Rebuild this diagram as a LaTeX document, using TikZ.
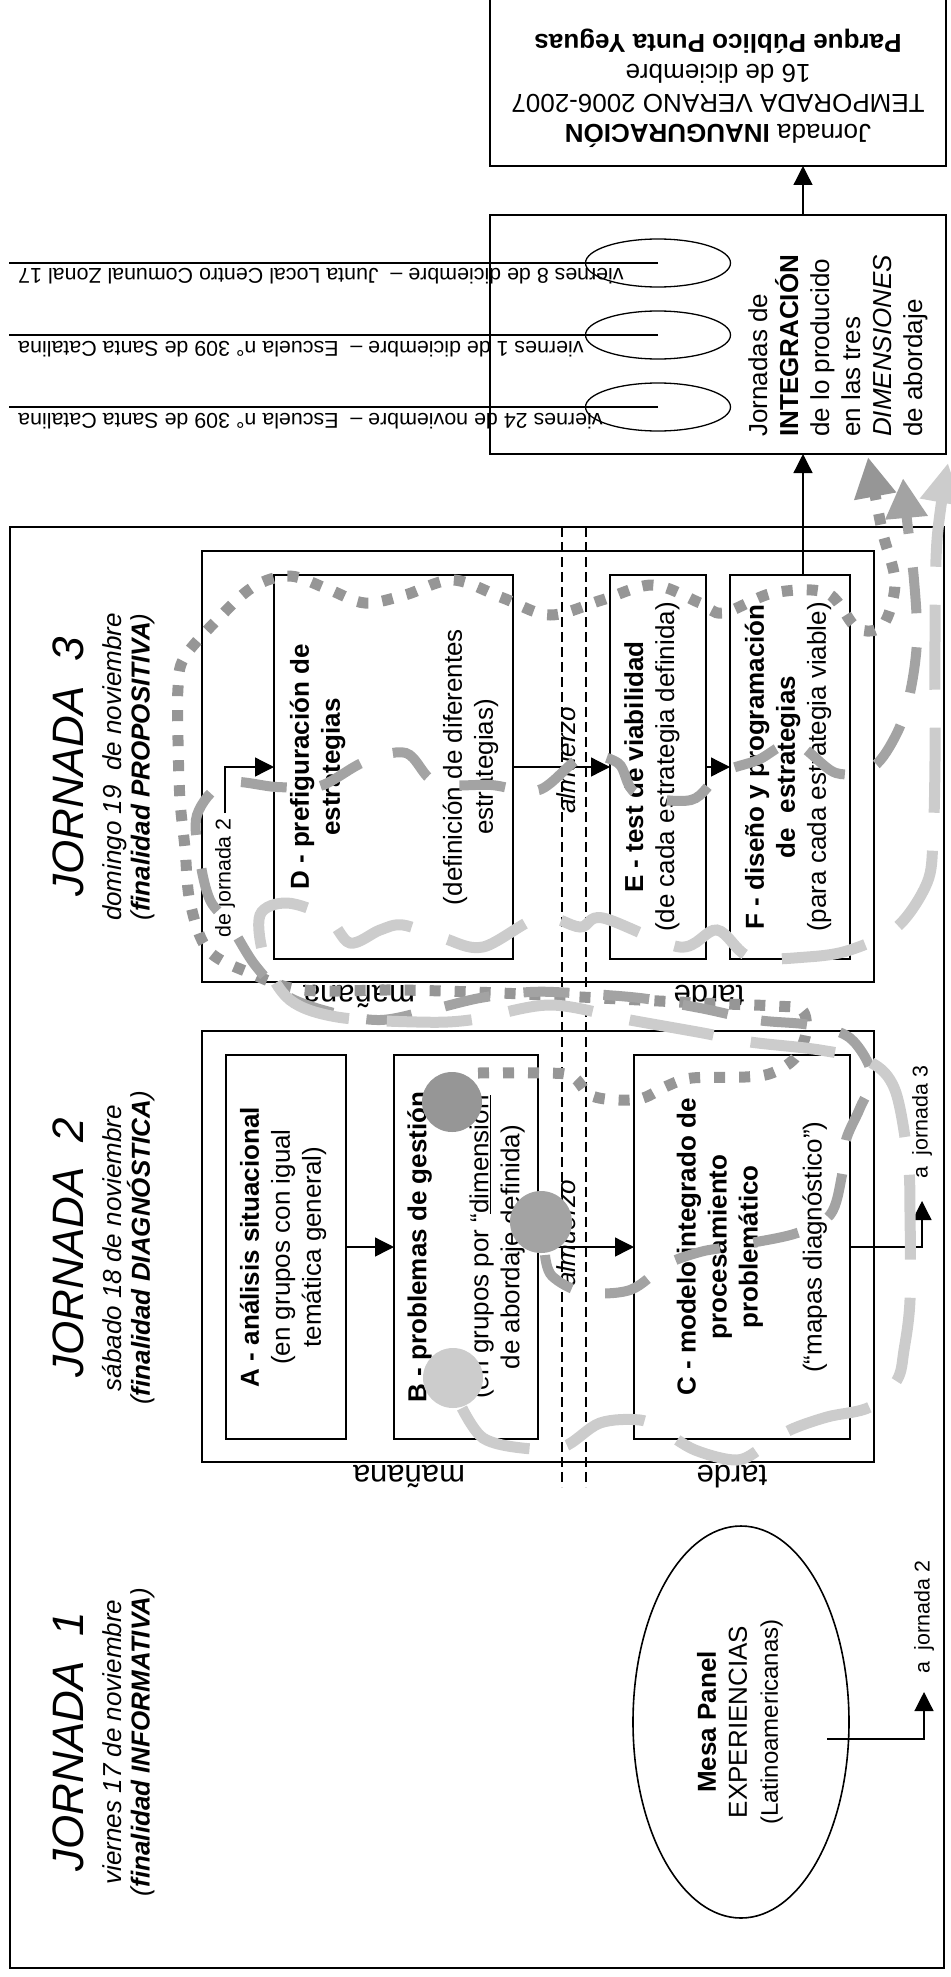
\documentclass[tikz,border=0pt]{standalone}
\usepackage{fontspec}
\setmainfont{Liberation Sans}
\usepackage{xcolor}
\usepackage{tikz}
\usetikzlibrary{arrows.meta,shapes.geometric}

\definecolor{grisA}{RGB}{150,150,150}
\definecolor{grisB}{RGB}{163,163,163}
\definecolor{grisC}{RGB}{204,204,204}

\tikzset{
  caja/.style={draw, line width=1.6pt, inner sep=0pt, outer sep=0pt},
  marco/.style={draw, line width=1.4pt, inner sep=0pt, outer sep=0pt},
  lugar/.style={draw, ellipse, line width=1.3pt, inner sep=0pt, minimum width=145pt, minimum height=48pt},
  flecha/.style={line width=1.3pt, -{Triangle[length=19pt,width=19pt]}},
  texto/.style={inner sep=0pt, align=center, font=\fontsize{26}{31}\selectfont},
  vert/.style={texto, rotate=90},
  chico/.style={inner sep=0pt, font=\fontsize{21.4}{25}\selectfont},
  turno/.style={inner sep=0pt, rotate=180, anchor=base, font=\fontsize{31}{36}\selectfont},
  corte/.style={line width=1.2pt, dash pattern=on 10pt off 5pt},
  bola/.style={circle, inner sep=0pt, minimum size=60pt},
  punteado/.style={grisA, line width=11pt, dash pattern=on 11pt off 14pt},
  rayado/.style={grisB, line width=10pt, dash pattern=on 46pt off 34pt},
  claro/.style={grisC, line width=11pt, dash pattern=on 85pt off 38pt},
  punta/.style={-{Triangle[length=40pt,width=40pt]}},
}

\begin{document}
\begin{tikzpicture}[x=1pt,y=1pt,yscale=-1,xscale=1]
\useasboundingbox (0,0) rectangle (950,1977);



\node[marco, minimum width=934pt, minimum height=1441pt] (fondo) at (477,1247.5) {};
\node[marco, minimum width=672pt, minimum height=431pt] (dia3) at (538,766.5) {};
\node[marco, minimum width=672pt, minimum height=431pt] (dia2) at (538,1246.5) {};

\draw[corte] (562,527) -- (562,1487);
\draw[corte] (586,527) -- (586,1487);



\node[caja, minimum width=456pt, minimum height=168pt] (inaug) at (718,82) {};
\node[caja, minimum width=456pt, minimum height=239pt] (integ) at (718,334.5) {};
\node[caja, minimum width=239pt, minimum height=384pt] (D) at (393.5,767) {};
\node[caja, minimum width=96pt, minimum height=384pt] (E) at (658,767) {};
\node[caja, minimum width=120pt, minimum height=384pt] (F) at (790,767) {};
\node[caja, minimum width=120pt, minimum height=384pt] (A) at (286,1247) {};
\node[caja, minimum width=144pt, minimum height=384pt] (B) at (466,1247) {};
\node[caja, minimum width=216pt, minimum height=384pt] (C) at (742,1247) {};
\node[caja, ellipse, minimum width=216pt, minimum height=392pt] (mesa) at (741,1722) {};

\node[lugar] (dic8) at (658,263) {};
\node[lugar] (dic1) at (658,335) {};
\node[lugar] (nov24) at (658,407) {};
\coordinate (fin8) at (9,263);
\coordinate (fin1) at (9,335);
\coordinate (fin24) at (9,407);
\draw[line width=1.3pt] (dic8.center) -- (fin8);
\draw[line width=1.3pt] (dic1.center) -- (fin1);
\draw[line width=1.3pt] (nov24.center) -- (fin24);



\node[texto, rotate=180, font=\fontsize{26}{30}\selectfont] (inaugtxt) at (718,88) {Jornada \textbf{INAUGURACIÓN}\\TEMPORADA VERANO 2006-2007\\16 de diciembre\\\textbf{Parque Público Punta Yeguas}};
\node[vert, align=left, anchor=west] (integtxt) at (838,437) {Jornadas de\\\textbf{INTEGRACIÓN}\\de lo producido\\en las tres\\\textit{DIMENSIONES}\\de abordaje};

\node[chico, rotate=180, anchor=base east] (lug8) at (18,269) {viernes 8 de diciembre –\ \ Junta Local Centro Comunal Zonal 17};
\node[chico, rotate=180, anchor=base east] (lug1) at (18,341) {viernes 1 de diciembre –\ \ Escuela n° 309 de Santa Catalina};
\node[chico, rotate=180, anchor=base east] (lug24) at (18,413) {viernes 24 de noviembre –\ \ Escuela n° 309 de Santa Catalina};

\node[vert, font=\fontsize{44}{50}\selectfont\itshape] (tit3) at (68,767) {JORNADA\ \ 3};
\node[vert, font=\fontsize{26}{28}\selectfont] (sub3) at (129,767) {\textit{domingo 19\ \ de noviembre}\\\textit{(\textbf{finalidad PROPOSITIVA})}};
\node[vert, font=\fontsize{44}{50}\selectfont\itshape] (tit2) at (68,1248) {JORNADA\ \ 2};
\node[vert, font=\fontsize{26}{28}\selectfont] (sub2) at (129,1248) {\textit{sábado 18 de noviembre}\\\textit{(\textbf{finalidad DIAGNÓSTICA})}};
\node[vert, font=\fontsize{44}{50}\selectfont\itshape] (tit1) at (68,1742) {JORNADA\ \ 1};
\node[vert, font=\fontsize{26}{28}\selectfont] (sub1) at (129,1742) {\textit{viernes 17 de noviembre}\\\textit{(\textbf{finalidad INFORMATIVA})}};

\node[vert] (Dtxt) at (394,767) {\textbf{D - prefiguración de}\\\textbf{estrategias}\\[91pt](definición de diferentes\\estrategias)};
\node[vert] (Etxt) at (652,767) {\textbf{E - test de viabilidad}\\(de cada estrategia definida)};
\node[vert] (Ftxt) at (788,767) {\textbf{F - diseño y programación}\\\textbf{de\ \ estrategias}\\(para cada estrategia viable)};
\node[vert] (Atxt) at (283,1247) {\textbf{A - análisis situacional}\\(en grupos con igual\\temática general)};
\node[vert] (Btxt) at (466,1247) {\textbf{B - problemas de gestión}\\[31pt](en grupos por “\underline{dimensión}\\de abordaje definida)};
\node[vert] (Ctxt) at (752,1247) {\textbf{C - modelo integrado de}\\\textbf{procesamiento}\\\textbf{problemático}\\[33pt](“mapas diagnóstico”)};
\node[vert] (mesatxt) at (740,1722) {\textbf{Mesa Panel}\\EXPERIENCIAS\\{\fontsize{24}{28}\selectfont(Latinoamericanas)}};

\node[vert, anchor=base, font=\fontsize{26}{31}\selectfont\itshape] (alm3) at (575,760) {almuerzo};
\node[vert, anchor=base, font=\fontsize{26}{31}\selectfont\itshape] (alm2) at (575,1233) {almuerzo};

\node[turno] (man3) at (359,985) {mañana};
\node[turno] (tar3) at (709,985) {tarde};
\node[turno] (man2) at (409,1465) {mañana};
\node[turno] (tar2) at (732,1465) {tarde};



\draw[flecha] ([xshift=85pt]integ.north) -- ([xshift=85pt]inaug.south);
\draw[flecha] ([xshift=13pt]F.north) -- ([xshift=85pt]integ.south);
\draw[flecha] (D.east) -- (E.west);
\draw[flecha] (E.east) -- (F.west);
\draw[flecha] (A.east) -- (B.west);
\draw[flecha] (B.east) -- (C.west);

\coordinate (dj2) at (225,813);
\draw[flecha] (dj2) |- (D.west);
\node[chico, rotate=90, anchor=east] (ldj2) at (225,818) {de jornada 2};

\coordinate (aj3) at (922,1201);
\draw[flecha] (C.east) -| (aj3);
\node[chico, rotate=90, anchor=west] (laj3) at (922,1179) {a\ \ jornada 3};

\coordinate (msal) at (827,1739);
\coordinate (aj2) at (924,1692);
\draw[flecha] (msal) -| (aj2);
\node[chico, rotate=90, anchor=west] (laj2) at (924,1674) {a\ \ jornada 2};



\node[bola, fill=grisA] (bola1) at (452,1102) {};
\node[bola, fill=grisB, minimum size=62pt] (bola2) at (541,1222) {};
\node[bola, fill=grisC] (bola3) at (453,1378) {};

\draw[punteado, punta] (bola1.north east) plot[smooth, tension=0.55] coordinates {(478,1073) (543,1073) (572,1076) (590,1095) (617,1100) (643,1098) (667,1086) (692,1078) (745,1077) (772,1073) (795,1058) (806,1033) (802,1010) (775,1006) (700,1003) (600,998) (500,993) (400,990) (303,990) (250,973) (208,950) (190,902) (185,848) (180,800) (178,740) (178,688) (184,658) (217,620) (253,587) (290,576) (330,590) (365,603) (405,595) (453,580) (503,598) (550,615) (602,600) (653,585) (700,603) (723,613) (773,593) (827,593) (857,628) (883,625) (895,582) (882,530) (868,457)};

\draw[rayado, punta] (bola2.south) plot[smooth, tension=0.55] coordinates {(545,1255) (552,1276) (583,1292) (630,1290) (667,1264) (700,1252) (727,1247) (794,1234) (830,1215) (842,1175) (846,1140) (860,1108) (872,1075) (850,1038) (810,1025) (757,1020) (700,1008) (640,998) (573,993) (530,992) (480,998) (430,1010) (380,1020) (330,1012) (285,995) (255,965) (230,925) (210,900) (200,860) (197,815) (225,783) (277,787) (320,786) (364,762) (406,753) (436,783) (491,785) (539,790) (582,757) (618,763) (636,793) (691,800) (721,773) (758,760) (794,743) (836,773) (873,767) (897,733) (910,693) (917,640) (914,580) (907,520) (903,478)};

\draw[claro, punta] (bola3.south) plot[smooth, tension=0.55] coordinates {(462,1408) (483,1438) (522,1448) (563,1447) (600,1423) (640,1420) (662,1430) (695,1450) (737,1460) (763,1447) (790,1430) (827,1417) (870,1407) (897,1380) (904,1350) (910,1300) (910,1213) (908,1160) (895,1090) (870,1062) (820,1050) (750,1042) (703,1033) (630,1020) (550,1005) (470,1020) (417,1022) (337,1017) (290,1000) (265,960) (260,915) (287,903) (327,917) (350,943) (380,930) (403,925) (443,938) (483,947) (540,917) (580,927) (603,918) (680,947) (717,930) (750,957) (807,957) (850,950) (897,927) (927,883) (933,840) (935,760) (935,640) (937,540) (948,463)};


\end{tikzpicture}
\end{document}
